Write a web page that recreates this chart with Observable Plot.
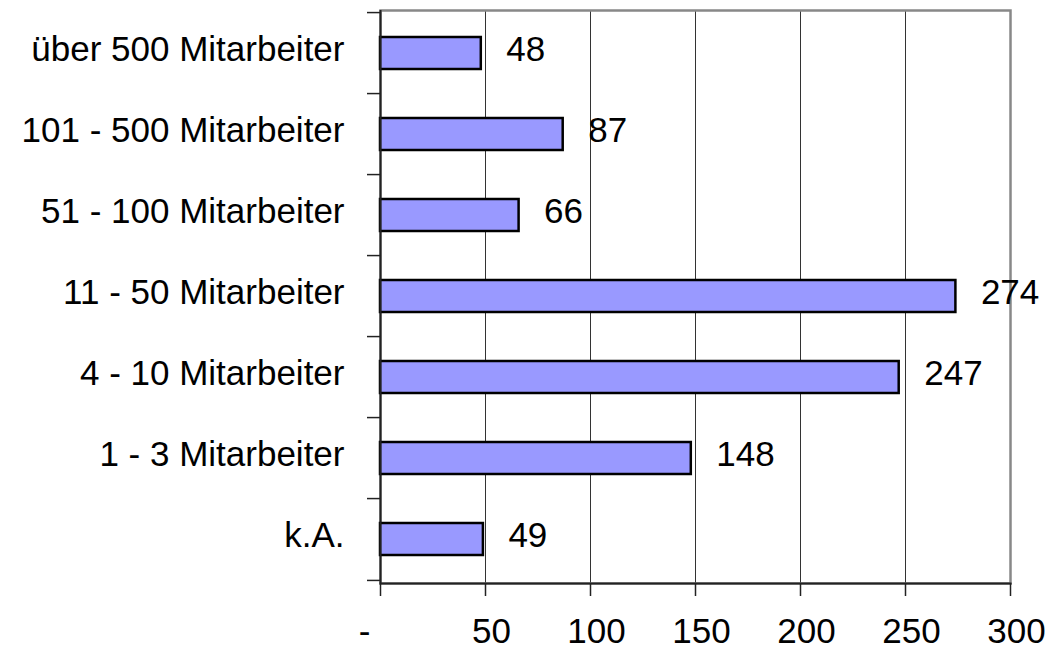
<!DOCTYPE html>
<html><head><meta charset="utf-8">
<script src="https://cdn.jsdelivr.net/npm/d3@7"></script>
<script src="https://cdn.jsdelivr.net/npm/@observablehq/plot@0.6"></script>
<style>body{margin:0;background:#fff;}</style>
</head><body><div id="chart"></div>
<script>
const categories = ["über 500 Mitarbeiter","101 - 500 Mitarbeiter","51 - 100 Mitarbeiter","11 - 50 Mitarbeiter","4 - 10 Mitarbeiter","1 - 3 Mitarbeiter","k.A."];
const values = [48, 87, 66, 274, 247, 148, 49];
const xTicks = [0, 50, 100, 150, 200, 250, 300];
const xTickLabels = ["-", "50", "100", "150", "200", "250", "300"];

const data = categories.map((c, i) => ({category: c, value: values[i]}));
const W = 1050, H = 652, mT = 10, mB = 69, mL = 380, mR = 40;
const step = (H - mT - mB) / categories.length;
const font = '"Liberation Sans", Arial, sans-serif';
const axisColor = "#222";

const plot = Plot.plot({
  width: W, height: H,
  marginTop: mT, marginBottom: mB, marginLeft: mL, marginRight: mR,
  style: {fontFamily: font, fontSize: "35px", background: "#fff", color: "#000", overflow: "visible"},
  x: {domain: [0, 300], label: null},
  y: {domain: categories, paddingInner: 0.6, paddingOuter: 0.3, label: null},
  marks: [
    Plot.gridX(xTicks.slice(1, -1), {stroke: "#333", strokeOpacity: 1, strokeWidth: 1}),
    Plot.frame({stroke: "#888", strokeWidth: 2.5}),
    Plot.barX(data, {x: "value", y: "category", fill: "#9999FF", stroke: "#000", strokeWidth: 2.5}),
    Plot.text(data, {x: "value", y: "category", text: d => String(d.value), textAnchor: "start", dx: 25, dy: -4, fontSize: 35, fill: "#000"}),
    Plot.ruleX([0], {stroke: axisColor, strokeWidth: 2}),
    Plot.frame({anchor: "bottom", stroke: axisColor, strokeWidth: 2}),
    Plot.axisY({tickSize: 0, tickPadding: 36, dy: -4, fontSize: 35, fill: "#000"}),
    Plot.axisY({text: null, tickSize: 13, dy: -step / 2, stroke: axisColor, strokeWidth: 1.5}),
    Plot.axisY([categories[categories.length - 1]], {text: null, tickSize: 13, dy: step / 2, stroke: axisColor, strokeWidth: 1.5}),
    Plot.axisX(xTicks, {text: null, tickSize: 13, stroke: axisColor, strokeWidth: 1.5}),
    Plot.axisX(xTicks.slice(1), {tickSize: 0, tickPadding: 35, dx: 6, fontSize: 35, fill: "#000",
      tickFormat: d => xTickLabels[xTicks.indexOf(d)]}),
    Plot.axisX([xTicks[0]], {tickSize: 0, tickPadding: 35, dx: -16, fontSize: 35, fill: "#000",
      tickFormat: () => xTickLabels[0]})
  ]
});
document.getElementById("chart").appendChild(plot);
</script>
</body></html>
